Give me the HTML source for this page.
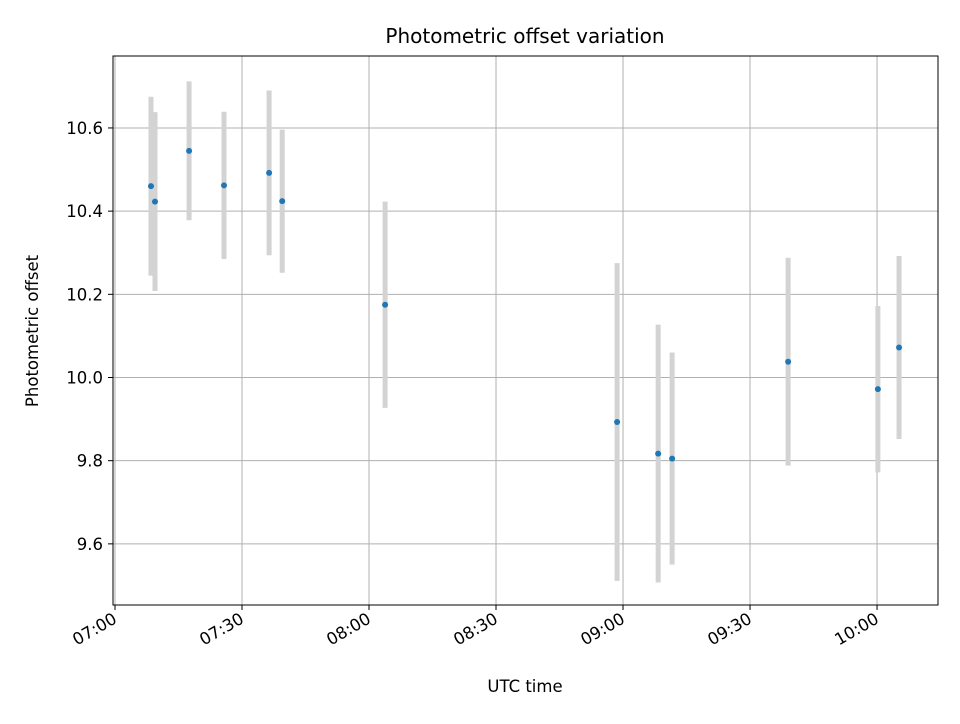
<!DOCTYPE html>
<html><head><meta charset="utf-8"><style>
body{margin:0;background:#fff;font-family:"DejaVu Sans","Liberation Sans",sans-serif}
svg text{font-family:"DejaVu Sans","Liberation Sans",sans-serif}
</style></head><body>
<svg id="chart" width="960" height="720" xmlns="http://www.w3.org/2000/svg">
<rect width="960" height="720" fill="#fff"/>
<g id="grid"></g><g id="marks"></g><g id="axes"></g>
<text x="525" y="43" text-anchor="middle" font-size="20">Photometric offset variation</text>
<text x="525" y="692" text-anchor="middle" font-size="16.5">UTC time</text>
<text transform="translate(38,331) rotate(-90)" text-anchor="middle" font-size="16.5">Photometric offset</text>
</svg>
<script>
// minutes after 07:00 UTC
const times=[8.5,9.45,17.5,25.75,36.4,39.5,63.8,118.6,128.3,131.6,159,180.2,185.2];
const offsets=[10.46,10.423,10.545,10.462,10.492,10.424,10.175,9.893,9.817,9.805,10.038,9.972,10.072];
const errors=[0.215,0.215,0.167,0.177,0.198,0.172,0.248,0.382,0.31,0.255,0.25,0.2,0.22];
const xTickMinutes=[0,30,60,90,120,150,180];
const xTickLabels=["07:00","07:30","08:00","08:30","09:00","09:30","10:00"];
const yTicks=[9.6,9.8,10.0,10.2,10.4,10.6];
const L=113,R=938,T=56,B=605;
const xmin=-0.47,xmax=194.4,ymin=9.453,ymax=10.773;
const X=v=>L+(v-xmin)/(xmax-xmin)*(R-L);
const Y=v=>B-(v-ymin)/(ymax-ymin)*(B-T);
const NS="http://www.w3.org/2000/svg";
function mk(tag,attrs,parent){const e=document.createElementNS(NS,tag);for(const k in attrs)e.setAttribute(k,attrs[k]);document.getElementById(parent).appendChild(e);return e;}
xTickMinutes.forEach((m,i)=>{
 const x=X(m);
 const g=mk("line",{x1:x,x2:x,y1:T,y2:B,stroke:"#b0b0b0","stroke-width":1},"grid");
 
 
 const t=mk("line",{x1:x,x2:x,y1:B,y2:B+5,stroke:"#000","stroke-width":1},"axes");
 
 
 const lb=mk("text",{x:x+3,y:B+17,"text-anchor":"end","font-size":16.5,transform:`rotate(-30 ${x+3} ${B+17})`},"axes");
 lb.textContent=xTickLabels[i];
 
 
});
yTicks.forEach(v=>{
 const y=Y(v);
 const g=mk("line",{x1:L,x2:R,y1:y,y2:y,stroke:"#b0b0b0","stroke-width":1},"grid");
 
 
 const t=mk("line",{x1:L-5,x2:L,y1:y,y2:y,stroke:"#000","stroke-width":1},"axes");
 
 
 const lb=mk("text",{x:L-10,y:y+6,"text-anchor":"end","font-size":16.5},"axes");
 lb.textContent=v.toFixed(1);
 
 
});
times.forEach((m,i)=>{
 const x=X(m);
 const b=mk("line",{x1:x,x2:x,y1:Y(offsets[i]+errors[i]),y2:Y(offsets[i]-errors[i]),stroke:"#d3d3d3","stroke-width":5},"marks");
 
 
});
times.forEach((m,i)=>{
 const p=mk("circle",{cx:X(m),cy:Y(offsets[i]),r:3,fill:"#1f77b4"},"marks");
 
 
});
const f=mk("rect",{x:L,y:T,width:R-L,height:B-T,fill:"none",stroke:"#000","stroke-width":1},"axes");


</script>
</body></html>
